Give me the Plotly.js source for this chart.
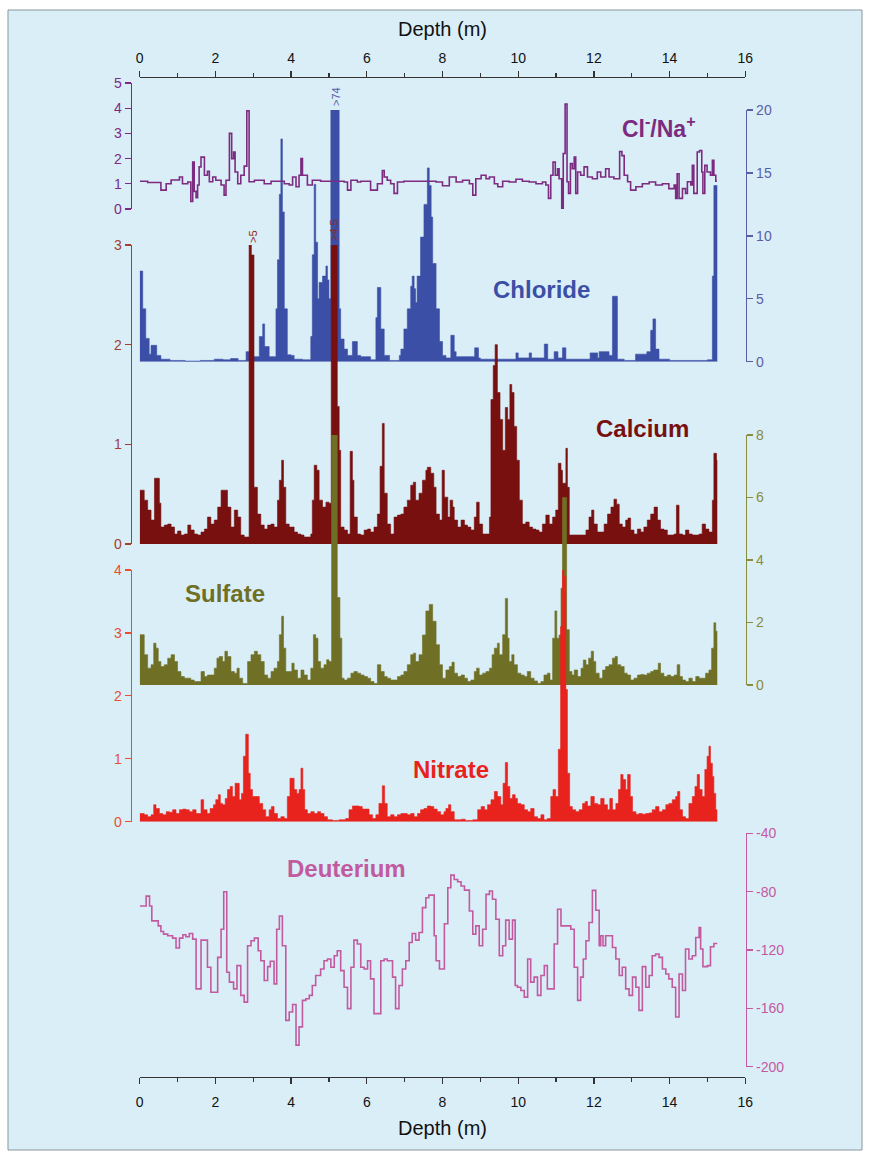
<!DOCTYPE html>
<html>
<head>
<meta charset="utf-8">
<script src="https://cdn.plot.ly/plotly-3.0.1.min.js"></script>
<style>html,body{margin:0;padding:0;background:#fff;}#chart{width:869px;height:1155px;}</style>
</head>
<body>
<div id="chart"></div>
<script>
// ---------------- DATA ----------------
const depthTicks = [0, 2, 4, 6, 8, 10, 12, 14, 16];
const depthMinorTicks = [1, 3, 5, 7, 9, 11, 13, 15];

const chlorideDepth = [
  0.00,0.08,0.16,0.25,0.30,0.45,0.56,0.80,1.20,1.60,
  1.97,2.20,2.40,2.60,2.81,2.95,3.16,3.25,3.30,3.42,
  3.60,3.64,3.69,3.73,3.77,3.82,3.90,4.00,4.08,4.30,
  4.52,4.56,4.61,4.65,4.70,4.74,4.83,4.92,4.96,5.00,
  5.05,5.27,5.31,5.40,5.49,5.62,5.75,5.84,5.97,6.10,
  6.24,6.28,6.37,6.46,6.60,6.86,6.90,6.98,7.07,7.16,
  7.20,7.25,7.29,7.33,7.42,7.51,7.60,7.65,7.70,7.74,
  7.83,7.92,8.00,8.09,8.22,8.31,8.36,8.85,8.95,9.00,
  9.94,10.00,10.29,10.35,10.69,10.78,10.95,11.05,11.17,11.26,
  11.90,12.10,12.14,12.40,12.49,12.62,12.80,13.10,13.40,13.50,
  13.56,13.63,13.72,14.00,15.00,15.13,15.17,15.26];
const chlorideValue = [
  7.2,4.2,1.85,0.6,1.3,0.5,0.2,0.1,0.05,0.1,
  0.2,0.15,0.25,0.1,0.8,0.4,2.0,3.0,1.2,0.4,
  4.2,8.1,13.3,17.7,11.9,4.2,0.55,0.5,0.2,0.15,
  2.0,8.5,14.1,9.5,5.0,6.3,6.8,7.6,6.5,5.0,
  74,4.2,1.8,1.0,0.5,1.6,0.5,0.4,0.4,0.15,
  3.5,5.9,2.6,0.5,0.1,0.5,1.0,2.6,4.2,6.0,
  6.8,5.8,4.7,6.8,9.9,12.5,15.4,14.0,11.5,7.8,
  4.2,1.6,0.5,0.3,2.1,0.8,0.4,1.1,0.3,0.2,
  0.7,0.3,0.7,0.3,1.4,0.2,0.8,0.3,1.1,0.2,
  0.7,0.3,0.8,0.5,5.2,0.2,0.1,0.6,0.8,2.5,
  3.4,1.0,0.2,0.1,0.15,6.8,14.0,14.0];

const clnaDepth = [
  0.00,0.21,0.56,0.70,0.83,1.05,1.13,1.27,1.35,1.40,
  1.44,1.49,1.53,1.57,1.62,1.71,1.79,1.84,1.93,2.01,
  2.15,2.23,2.28,2.37,2.43,2.48,2.52,2.59,2.67,2.76,
  2.83,2.89,3.03,3.29,3.47,3.82,3.95,4.04,4.13,4.21,
  4.26,4.30,4.43,4.56,4.78,5.40,5.49,5.58,5.75,5.84,
  6.10,6.28,6.41,6.46,6.54,6.63,6.72,6.81,6.98,7.83,
  8.00,8.18,8.36,8.53,8.71,8.80,8.88,9.02,9.15,9.24,
  9.37,9.46,9.59,9.76,9.94,10.11,10.29,10.47,10.64,10.73,
  10.80,10.86,10.92,10.98,11.04,11.08,11.15,11.19,11.24,11.29,
  11.33,11.38,11.43,11.48,11.52,11.57,11.65,11.74,11.83,11.96,
  12.09,12.18,12.31,12.40,12.53,12.68,12.74,12.80,12.89,12.97,
  13.11,13.28,13.46,13.63,13.81,13.98,14.12,14.16,14.20,14.25,
  14.34,14.42,14.47,14.56,14.60,14.64,14.73,14.79,14.85,14.88,
  14.93,14.99,15.08,15.13,15.17,15.22,15.25];
const clnaValue = [
  1.1,1.05,0.75,1.0,1.15,1.27,1.0,1.07,0.3,1.86,
  0.7,0.45,0.95,1.67,2.06,1.34,1.5,1.08,1.27,1.14,
  0.95,0.55,1.14,3.0,2.0,2.26,1.47,1.0,1.34,1.7,
  3.9,1.08,1.14,1.0,1.1,1.0,0.95,1.27,0.88,1.34,
  2.0,1.34,0.95,1.14,1.1,1.07,0.75,1.14,1.07,1.1,
  0.75,1.0,1.53,1.27,1.14,1.0,0.62,1.07,1.1,1.07,
  0.92,1.27,1.07,1.14,1.0,0.55,1.2,1.34,1.2,1.27,
  1.0,0.88,1.1,1.07,1.18,1.1,1.07,1.0,1.07,0.95,
  0.42,1.34,1.86,1.34,1.6,1.2,0.03,2.2,4.16,1.08,
  0.62,1.8,1.6,2.06,0.62,1.47,1.34,1.67,1.27,1.2,
  1.47,1.27,1.6,1.27,1.2,2.28,2.12,1.34,1.08,0.75,
  0.88,1.0,1.07,0.95,1.0,0.81,0.95,0.42,1.4,0.42,
  0.81,0.62,1.08,0.95,1.73,0.62,2.26,2.32,1.47,0.62,
  1.73,1.47,1.34,1.93,1.34,1.1,1.1];

const calciumDepth = [
  0.00,0.12,0.21,0.30,0.39,0.52,0.56,0.65,0.74,0.83,
  0.92,1.00,1.09,1.18,1.27,1.35,1.44,1.53,1.62,1.71,
  1.79,1.88,1.97,2.06,2.15,2.32,2.41,2.50,2.59,2.67,
  2.76,2.89,2.95,3.02,3.11,3.20,3.29,3.38,3.47,3.55,
  3.64,3.69,3.75,3.80,3.86,3.95,4.08,4.17,4.26,4.34,
  4.52,4.56,4.61,4.68,4.74,4.83,4.92,5.00,5.06,5.22,
  5.27,5.31,5.40,5.49,5.56,5.62,5.66,5.75,5.84,5.93,
  6.02,6.10,6.19,6.28,6.35,6.41,6.46,6.54,6.63,6.72,
  6.81,6.90,6.98,7.07,7.16,7.23,7.29,7.38,7.47,7.56,
  7.60,7.69,7.77,7.83,7.92,7.99,8.05,8.14,8.20,8.27,
  8.31,8.40,8.49,8.58,8.66,8.75,8.84,8.90,8.97,9.06,
  9.15,9.24,9.28,9.34,9.39,9.45,9.52,9.59,9.66,9.72,
  9.78,9.83,9.89,9.96,10.03,10.11,10.20,10.29,10.38,10.47,
  10.55,10.64,10.73,10.82,10.91,10.99,11.06,11.13,11.17,11.26,
  11.30,11.35,11.43,11.79,11.87,11.94,12.00,12.09,12.18,12.27,
  12.36,12.45,12.53,12.60,12.67,12.75,12.84,12.90,12.97,13.06,
  13.15,13.24,13.32,13.41,13.50,13.59,13.68,13.76,13.85,13.94,
  14.03,14.12,14.18,14.25,14.34,14.42,14.51,14.60,14.69,14.78,
  14.86,14.95,15.04,15.13,15.17,15.24,15.26];
const calciumValue = [
  0.54,0.44,0.34,0.24,0.66,0.41,0.17,0.19,0.2,0.17,
  0.1,0.13,0.09,0.1,0.19,0.14,0.1,0.09,0.12,0.15,
  0.27,0.2,0.24,0.37,0.54,0.37,0.17,0.34,0.27,0.09,
  0.07,5.5,2.9,0.57,0.3,0.19,0.15,0.19,0.2,0.17,
  0.44,0.64,0.84,0.57,0.2,0.17,0.12,0.1,0.09,0.07,
  0.1,0.44,0.79,0.74,0.44,0.37,0.42,0.41,4.6,1.38,
  0.94,0.17,0.14,0.1,0.93,0.64,0.27,0.1,0.09,0.14,
  0.15,0.12,0.17,0.3,0.78,1.21,0.51,0.2,0.1,0.27,
  0.29,0.3,0.37,0.44,0.59,0.62,0.44,0.51,0.64,0.74,
  0.77,0.71,0.57,0.3,0.24,0.74,0.47,0.27,0.44,0.37,
  0.24,0.17,0.24,0.19,0.17,0.14,0.27,0.42,0.2,0.1,
  0.1,0.27,1.45,1.79,2.0,1.52,1.25,0.94,1.37,1.25,
  1.6,1.52,1.18,0.84,0.44,0.2,0.22,0.17,0.15,0.14,
  0.12,0.2,0.29,0.2,0.27,0.34,0.81,0.74,0.61,0.96,
  0.57,0.09,0.09,0.14,0.27,0.34,0.2,0.12,0.12,0.2,
  0.3,0.37,0.45,0.4,0.2,0.17,0.24,0.26,0.14,0.1,
  0.15,0.12,0.17,0.24,0.3,0.37,0.24,0.15,0.14,0.09,
  0.09,0.1,0.39,0.1,0.09,0.14,0.1,0.09,0.09,0.1,
  0.2,0.15,0.12,0.44,0.91,0.84,0.84];

const sulfateDepth = [
  0.00,0.12,0.21,0.30,0.37,0.43,0.49,0.56,0.65,0.74,
  0.83,0.92,1.00,1.09,1.18,1.35,1.44,1.62,1.71,1.79,
  1.97,2.04,2.10,2.19,2.25,2.32,2.41,2.50,2.57,2.63,
  2.72,2.85,2.94,3.03,3.11,3.20,3.29,3.38,3.47,3.55,
  3.64,3.69,3.75,3.80,3.86,4.02,4.08,4.17,4.26,4.34,
  4.43,4.52,4.59,4.65,4.71,4.78,4.87,4.94,5.00,5.07,
  5.22,5.29,5.34,5.40,5.49,5.58,5.66,5.75,5.84,5.93,
  6.02,6.10,6.19,6.28,6.37,6.46,6.54,6.63,6.81,6.90,
  6.98,7.07,7.16,7.23,7.29,7.38,7.47,7.56,7.65,7.74,
  7.83,7.92,8.00,8.09,8.18,8.25,8.31,8.40,8.49,8.58,
  8.66,8.75,8.84,8.90,8.97,9.06,9.15,9.24,9.31,9.37,
  9.45,9.50,9.59,9.66,9.72,9.76,9.83,9.89,9.98,10.07,
  10.16,10.24,10.33,10.42,10.51,10.60,10.68,10.77,10.84,10.91,
  10.97,11.02,11.08,11.13,11.17,11.28,11.35,11.42,11.48,11.57,
  11.66,11.72,11.79,11.86,11.93,11.99,12.05,12.14,12.23,12.31,
  12.40,12.49,12.56,12.62,12.71,12.80,12.88,12.97,13.06,13.15,
  13.24,13.32,13.41,13.50,13.58,13.70,13.76,13.85,13.94,14.03,
  14.12,14.20,14.27,14.34,14.42,14.51,14.60,14.69,14.78,14.86,
  14.95,15.04,15.11,15.17,15.22,15.26];
const sulfateValue = [
  1.61,0.97,0.54,0.65,1.34,1.18,0.75,0.59,0.65,0.86,
  0.97,0.75,0.43,0.27,0.22,0.16,0.11,0.43,0.27,0.32,
  0.54,0.86,0.91,0.75,1.08,0.91,0.43,0.38,0.54,0.22,
  0.05,0.75,0.97,1.08,0.97,0.75,0.32,0.22,0.43,0.54,
  0.75,1.61,2.2,1.18,0.43,0.7,0.48,0.22,0.48,0.32,
  0.16,0.54,1.61,1.5,0.75,0.54,0.65,0.81,0.75,8.1,
  2.8,1.5,0.22,0.16,0.22,0.38,0.43,0.38,0.32,0.27,
  0.22,0.11,0.05,0.65,0.43,0.27,0.22,0.16,0.27,0.32,
  0.43,0.65,0.97,1.02,0.75,0.97,1.6,2.37,2.58,2.04,
  1.29,0.65,0.22,0.48,0.59,0.73,0.38,0.27,0.32,0.22,
  0.11,0.16,0.43,0.54,0.32,0.38,0.43,0.54,0.97,1.18,
  1.34,0.97,1.61,2.77,1.5,0.75,0.97,0.65,0.38,0.32,
  0.27,0.43,0.22,0.13,0.05,0.11,0.32,0.38,0.16,1.5,
  2.37,1.5,1.6,3.1,6.0,1.77,0.43,0.32,0.48,0.27,
  0.54,0.8,0.65,0.86,1.08,0.75,0.38,0.22,0.48,0.59,
  0.65,0.86,0.91,0.65,0.59,0.38,0.32,0.16,0.22,0.32,
  0.34,0.32,0.38,0.43,0.48,0.7,0.38,0.27,0.32,0.27,
  0.32,0.65,0.27,0.16,0.11,0.22,0.11,0.27,0.22,0.22,
  0.38,0.48,1.18,1.99,1.72,1.72];

const nitrateDepth = [
  0.00,0.12,0.21,0.30,0.37,0.43,0.52,0.61,0.70,0.78,
  0.87,0.96,1.05,1.14,1.22,1.31,1.40,1.49,1.62,1.69,
  1.78,1.86,1.95,2.01,2.08,2.13,2.19,2.26,2.32,2.39,
  2.45,2.52,2.57,2.63,2.69,2.74,2.80,2.87,2.92,2.98,
  3.07,3.16,3.25,3.33,3.42,3.48,3.55,3.64,3.73,3.82,
  3.90,3.97,4.08,4.15,4.21,4.26,4.31,4.36,4.43,4.52,
  4.61,4.70,4.78,4.87,4.96,5.09,5.27,5.44,5.53,5.62,
  5.71,5.80,5.88,5.97,6.06,6.15,6.24,6.32,6.41,6.47,
  6.54,6.63,6.72,6.81,6.90,7.07,7.16,7.25,7.34,7.42,
  7.51,7.60,7.69,7.77,7.86,7.95,8.04,8.09,8.16,8.22,
  8.31,8.50,8.60,8.80,8.93,9.02,9.11,9.19,9.28,9.37,
  9.45,9.54,9.60,9.66,9.72,9.78,9.85,9.92,9.98,10.07,
  10.16,10.25,10.33,10.42,10.51,10.60,10.68,10.77,10.86,10.92,
  10.99,11.06,11.12,11.17,11.21,11.26,11.30,11.36,11.43,11.52,
  11.61,11.70,11.77,11.83,11.92,12.01,12.10,12.18,12.27,12.36,
  12.42,12.49,12.58,12.65,12.71,12.77,12.84,12.89,12.96,13.02,
  13.11,13.19,13.28,13.37,13.46,13.54,13.63,13.72,13.81,13.90,
  13.98,14.07,14.16,14.21,14.27,14.34,14.42,14.51,14.60,14.67,
  14.73,14.79,14.86,14.93,14.99,15.04,15.08,15.13,15.17,15.22,
  15.26];
const nitrateValue = [
  0.13,0.11,0.08,0.11,0.27,0.21,0.13,0.11,0.16,0.15,
  0.19,0.13,0.19,0.2,0.19,0.16,0.19,0.13,0.35,0.19,
  0.13,0.21,0.27,0.35,0.43,0.29,0.27,0.37,0.51,0.56,
  0.4,0.61,0.61,0.35,0.45,1.04,1.39,0.77,0.51,0.4,
  0.4,0.29,0.19,0.08,0.19,0.24,0.13,0.05,0.08,0.05,
  0.4,0.69,0.51,0.45,0.51,0.85,0.51,0.19,0.13,0.16,
  0.13,0.16,0.13,0.08,0.03,0.02,0.03,0.05,0.19,0.25,
  0.25,0.24,0.2,0.2,0.11,0.05,0.11,0.29,0.57,0.29,
  0.08,0.11,0.08,0.11,0.13,0.11,0.13,0.08,0.13,0.19,
  0.21,0.25,0.24,0.2,0.16,0.11,0.16,0.21,0.27,0.16,
  0.03,0.04,0.02,0.03,0.19,0.24,0.19,0.27,0.35,0.48,
  0.4,0.27,0.61,0.94,0.56,0.37,0.43,0.37,0.29,0.27,
  0.19,0.16,0.21,0.08,0.05,0.11,0.03,0.05,0.4,0.51,
  0.4,1.15,3.1,4.0,3.9,2.1,0.77,0.24,0.19,0.16,
  0.19,0.29,0.32,0.25,0.4,0.29,0.27,0.37,0.27,0.19,
  0.37,0.19,0.29,0.51,0.75,0.67,0.51,0.75,0.4,0.16,
  0.12,0.13,0.12,0.13,0.14,0.19,0.24,0.16,0.19,0.27,
  0.29,0.35,0.4,0.48,0.19,0.08,0.05,0.29,0.4,0.56,
  0.75,0.51,0.4,0.83,1.04,1.2,0.93,0.72,0.45,0.19,
  0.19];

const deuteriumDepth = [
  0.00,0.17,0.26,0.32,0.49,0.56,0.63,0.74,0.87,0.96,
  1.05,1.14,1.22,1.31,1.40,1.49,1.62,1.79,1.88,2.06,
  2.15,2.22,2.30,2.37,2.48,2.57,2.67,2.76,2.85,2.94,
  3.03,3.13,3.20,3.29,3.38,3.45,3.55,3.62,3.69,3.77,
  3.86,3.95,4.04,4.13,4.21,4.30,4.39,4.48,4.56,4.65,
  4.78,4.87,4.96,5.05,5.14,5.22,5.31,5.40,5.49,5.58,
  5.66,5.75,5.84,5.93,6.02,6.10,6.19,6.37,6.46,6.54,
  6.68,6.76,6.85,6.94,7.03,7.12,7.20,7.29,7.38,7.47,
  7.56,7.64,7.78,7.83,7.92,8.05,8.14,8.22,8.31,8.40,
  8.49,8.58,8.71,8.80,8.88,8.97,9.06,9.15,9.24,9.32,
  9.41,9.50,9.59,9.67,9.76,9.85,9.92,9.98,10.07,10.16,
  10.25,10.33,10.42,10.51,10.60,10.69,10.77,10.95,11.04,11.13,
  11.39,11.48,11.57,11.65,11.72,11.79,11.87,11.96,12.05,12.14,
  12.18,12.24,12.31,12.49,12.58,12.67,12.75,12.84,12.93,13.02,
  13.11,13.19,13.28,13.37,13.46,13.54,13.63,13.72,13.81,13.90,
  13.98,14.07,14.16,14.25,14.34,14.42,14.51,14.60,14.69,14.78,
  14.82,14.88,15.00,15.08,15.17,15.26];
const deuteriumValue = [
  -89.8,-83,-89.8,-100,-103.4,-107.3,-109.1,-110.2,-111.8,-118.6,
  -111.8,-109.5,-110.9,-108.6,-112.5,-146.6,-113.2,-131.8,-148.9,-125,
  -105.7,-80,-135.2,-142,-146.6,-130.7,-151.1,-155.7,-117,-113.6,
  -111.8,-120.5,-127.3,-140.9,-131.4,-127.7,-143.2,-105.7,-96.6,-117,
  -168.2,-162.5,-157.3,-185.2,-172.7,-154.5,-153.4,-151.1,-144.3,-137.5,
  -133,-127.3,-126.1,-131.8,-123.9,-120.5,-134.1,-145.5,-160.2,-131.8,
  -113.2,-115.9,-131.8,-133,-127.3,-139.8,-163.6,-127.3,-126.1,-127.3,
  -138.6,-160.2,-144.3,-133,-127.3,-114.8,-108.6,-113.2,-108,-90.9,
  -84.1,-82.3,-110.2,-127.3,-133,-102,-77.3,-68.6,-71.6,-73.2,
  -76.1,-78.9,-93.2,-109.1,-103.4,-117,-105.7,-81.8,-79.5,-85.2,
  -98.9,-123.9,-117,-99.5,-112.5,-99.5,-144.3,-145.5,-147.7,-152.3,
  -126.1,-142,-138.6,-151.1,-137.5,-130.7,-146.6,-115.9,-92,-103.4,
  -105.7,-131.8,-154.5,-138.6,-126.1,-113.6,-101.1,-79.1,-92.7,-117,
  -110.2,-117,-110.2,-118.2,-126.1,-137.5,-131.8,-146.6,-151.1,-138.6,
  -145.5,-161.4,-131.4,-145.5,-137.5,-123.9,-122.7,-125,-133,-136.4,
  -139.8,-145.5,-165.9,-136.4,-147.7,-119.3,-126.1,-123.9,-111.4,-104.5,
  -119.3,-131.4,-130.7,-117.7,-115.5,-115.5];

const clnaTicks = [0, 1, 2, 3, 4, 5];
const chlorideTicks = [0, 5, 10, 15, 20];
const calciumTicks = [0, 1, 2, 3];
const sulfateTicks = [0, 2, 4, 6, 8];
const nitrateTicks = [0, 1, 2, 3, 4];
const deuteriumTicks = [-200, -160, -120, -80, -40];
const deuteriumTickText = ['-200', '-160', '-120', '-80', '-40'];

// ---------------- STYLE ----------------
const W = 869, H = 1155;
const px = v => v / W;            // pixel -> paper x
const py = v => 1 - v / H;        // pixel -> paper y
const FONT = 'Liberation Sans, Arial, Helvetica, sans-serif';

const C = {
  chloride: '#3b4fa6', chlorideAxis: '#5b5da6',
  clna: '#7c2b80',
  calcium: '#781010', calciumAxis: '#a2402c',
  sulfate: '#6f7025', sulfateAxis: '#8b8b3e',
  nitrate: '#e8221c', nitrateAxis: '#e84f2e',
  deut: '#c25aa0'
};

function area(x, y, yaxis, color) {
  return {type: 'scatter', mode: 'lines', x, y, xaxis: 'x', yaxis,
    fill: 'tozeroy', fillcolor: color,
    line: {color, width: 0.6, shape: 'hv'},
    hoverinfo: 'skip', showlegend: false};
}
function stepLine(x, y, yaxis, color) {
  return {type: 'scatter', mode: 'lines', x, y, xaxis: 'x', yaxis,
    line: {color, width: 1.6, shape: 'hv'},
    hoverinfo: 'skip', showlegend: false};
}

const traces = [
  area(chlorideDepth, chlorideValue, 'y', C.chloride),
  stepLine(clnaDepth, clnaValue, 'y2', C.clna),
  area(calciumDepth, calciumValue, 'y3', C.calcium),
  area(sulfateDepth, sulfateValue, 'y4', C.sulfate),
  area(nitrateDepth, nitrateValue, 'y5', C.nitrate),
  stepLine(deuteriumDepth, deuteriumValue, 'y6', C.deut),
  {type: 'scatter', mode: 'lines', x: [0, 16], y: [null, null], xaxis: 'x2', yaxis: 'y',
   hoverinfo: 'skip', showlegend: false}
];

const LEFT = px(130.5), RIGHT = px(746);

function yax(domain, range, side, color, tickvals, ticktext) {
  const a = {domain, range, side, anchor: 'free', position: side === 'left' ? LEFT : RIGHT,
    showgrid: false, zeroline: false, showline: true, linecolor: color, linewidth: 1.3,
    ticks: 'outside', ticklen: 6, tickwidth: 1.3, tickcolor: color,
    tickvals, tickfont: {family: FONT, size: 14, color}, fixedrange: true};
  if (ticktext) a.ticktext = ticktext;
  return a;
}
function xax(extra) {
  return Object.assign({domain: [px(139.7), px(745.3)], range: [0, 16], anchor: 'free',
    showgrid: false, zeroline: false, showline: true, linecolor: '#333', linewidth: 1.3,
    ticks: 'outside', ticklen: 6, tickwidth: 1.3, tickcolor: '#333',
    tickvals: depthTicks,
    minor: {tickvals: depthMinorTicks, ticks: 'outside', ticklen: 4, tickcolor: '#333', tickwidth: 1.2},
    tickfont: {family: FONT, size: 14, color: '#111'}, fixedrange: true}, extra);
}

function label(text, x, y, color, size, angle) {
  return {text, x: px(x), y: py(y), xref: 'paper', yref: 'paper', showarrow: false,
    xanchor: 'center', yanchor: 'middle', textangle: angle || 0,
    font: {family: FONT, size, color}};
}

const layout = {
  width: W, height: H,
  margin: {l: 0, r: 0, t: 0, b: 0},
  paper_bgcolor: '#ffffff', plot_bgcolor: 'rgba(0,0,0,0)',
  showlegend: false,
  font: {family: FONT},
  xaxis: xax({side: 'bottom', position: py(1077), ticklabelstandoff: 6,
    title: {text: 'Depth (m)', font: {family: FONT, size: 20, color: '#111'}, standoff: 12}}),
  xaxis2: xax({side: 'top', overlaying: 'x', position: py(76.5), ticklabelstandoff: 2,
    title: {text: 'Depth (m)', font: {family: FONT, size: 20, color: '#111'}, standoff: 6}}),
  yaxis: yax([py(361.7), py(110)], [0, 20], 'right', C.chlorideAxis, chlorideTicks),
  yaxis2: yax([py(209), py(83)], [0, 5], 'left', C.clna, clnaTicks),
  yaxis3: yax([py(544), py(245)], [0, 3], 'left', C.calciumAxis, calciumTicks),
  yaxis4: yax([py(685), py(435)], [0, 8], 'right', C.sulfateAxis, sulfateTicks),
  yaxis5: yax([py(821.7), py(570)], [0, 4], 'left', C.nitrateAxis, nitrateTicks),
  yaxis6: yax([py(1066.7), py(833.4)], [-200, -40], 'right', C.deut, deuteriumTicks, deuteriumTickText),
  shapes: [{type: 'rect', xref: 'paper', yref: 'paper', layer: 'below',
    x0: px(8), x1: px(862), y0: py(1150), y1: py(10),
    fillcolor: '#daeef8', line: {color: '#8a959c', width: 1}}],
  annotations: [
    label('<b>Cl<sup>-</sup>/Na<sup>+</sup></b>', 659, 127, C.clna, 23),
    label('<b>Chloride</b>', 541, 289, C.chloride, 24),
    label('<b>Calcium</b>', 642, 428, C.calcium, 24),
    label('<b>Sulfate</b>', 225, 594, C.sulfate, 24),
    label('<b>Nitrate</b>', 451, 769, C.nitrate, 24),
    label('<b>Deuterium</b>', 346, 868, C.deut, 24),
    label('>74', 336, 97, C.chlorideAxis, 11, -90),
    label('>5', 253, 237, '#8a2a1a', 11, -90),
    label('>4.5', 334, 230, '#8a2a1a', 11, -90)
  ]
};

Plotly.newPlot('chart', traces, layout, {staticPlot: true, displayModeBar: false});
</script>
</body>
</html>
